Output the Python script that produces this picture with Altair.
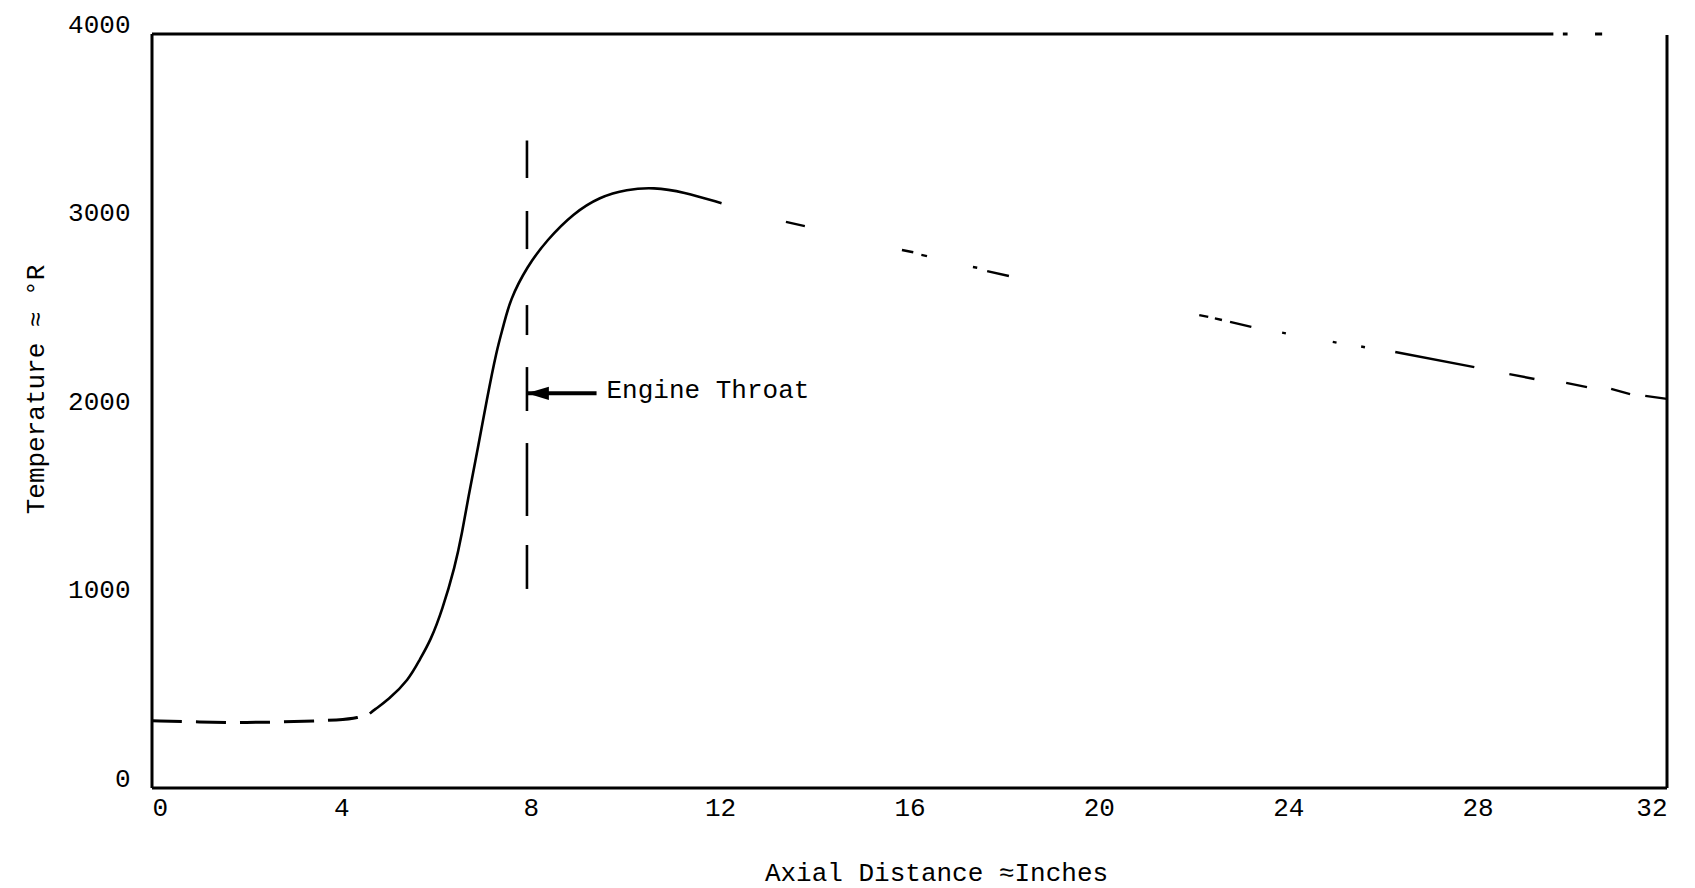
import altair as alt
import pandas as pd

FONT = "Liberation Mono"
WEIGHT = "normal"

# ---- data ----
# inlet section (dashed)
inlet_x = [0, 1.0, 2.0, 3.0, 4.0, 4.35, 4.6]
inlet_y = [357, 350, 346, 352, 361, 372, 395]

# solid temperature rise up to the peak and a bit beyond
rise_x = [4.6, 4.69, 4.99, 5.42, 5.65, 5.89, 6.13, 6.4, 6.55, 6.67, 6.89, 7.07,
          7.28, 7.42, 7.56, 7.92, 8.34, 8.9, 9.46, 10.03, 10.59, 11.22, 12.03]
rise_y = [395, 414, 467, 573, 679, 785, 944, 1174, 1353, 1528, 1811, 2058,
          2324, 2447, 2589, 2766, 2907, 3049, 3137, 3176, 3187, 3163, 3102]

# faded tail of the curve (visible fragments)
tail_id = [1, 1, 2, 2, 3, 3, 4, 4, 5, 5, 6, 6, 7, 7, 8, 8, 9, 9, 10, 10,
           11, 11, 12, 12, 13, 13, 14, 14, 15, 15, 16, 16]
tail_x = [13.39, 13.79, 15.84, 16.08, 16.25, 16.37, 17.34, 17.43, 17.64, 18.10,
          22.12, 22.31, 22.45, 22.60, 22.77, 23.22, 23.87, 23.95, 24.94, 25.02,
          25.54, 25.62, 26.26, 27.93, 28.67, 29.20, 29.87, 30.31, 30.82, 31.22,
          31.54, 32.0]
tail_y = [3003, 2981, 2854, 2842, 2828, 2822, 2764, 2760, 2742, 2716,
          2509, 2499, 2491, 2483, 2473, 2446, 2416, 2412, 2367, 2363,
          2342, 2338, 2313, 2233, 2196, 2170, 2149, 2127, 2117, 2090,
          2080, 2064]

# engine throat marker (dashed vertical line)
throat_x = 7.92
throat_y1 = [3435, 3061, 2562, 2233, 1830, 1289]
throat_y2 = [3236, 2859, 2403, 2000, 1443, 1056]

# arrow + label
arrow_y = 2094
arrow_x_start = 7.92
arrow_x_end = 9.39
arrow_head_x = 8.15
label_x = 9.6
label_y = 2111
label_text = "Engine Throat"

# frame (partly broken at the top right in the original)
frame_x1 = [0, 0, 32, 0, 29.8, 30.48]
frame_x2 = [0, 32, 32, 29.6, 29.9, 30.63]
frame_y1 = [0, 0, 0, 4000, 4000, 4000]
frame_y2 = [4000, 0, 3995, 4000, 4000, 4000]

x_ticks = [0, 4, 8, 12, 16, 20, 24, 28, 32]
y_ticks = [0, 1000, 2000, 3000, 4000]

# ---- build ----
xs = alt.Scale(domain=[0, 32], nice=False, zero=False)
ys = alt.Scale(domain=[0, 4000], nice=False)

inlet_df = pd.DataFrame({"x": inlet_x, "y": inlet_y})
rise_df = pd.DataFrame({"x": rise_x, "y": rise_y})
tail_df = pd.DataFrame({"id": tail_id, "x": tail_x, "y": tail_y})
throat_df = pd.DataFrame({"x": [throat_x] * len(throat_y1), "y": throat_y1, "y2": throat_y2})
arrow_df = pd.DataFrame({"x": [arrow_x_start], "x2": [arrow_x_end], "y": [arrow_y]})
head_df = pd.DataFrame({"x": [arrow_head_x], "y": [arrow_y]})
label_df = pd.DataFrame({"x": [label_x], "y": [label_y], "t": [label_text]})
frame_df = pd.DataFrame({"x": frame_x1, "x2": frame_x2, "y": frame_y1, "y2": frame_y2})

x_axis = alt.Axis(
    values=x_ticks, format="d", title="Axial Distance ≈Inches", ticks=False, domain=False, grid=False,
    labelFont=FONT, labelFontSize=26, labelFontWeight=WEIGHT, labelColor="#000", labelPadding=6,
    titleFont=FONT, titleFontSize=26, titleFontWeight=WEIGHT, titleColor="#000",
    titleX=784, titleY=84, titleAnchor="start", titleAlign="center", titleBaseline="middle",
)
y_axis = alt.Axis(
    values=y_ticks, format="d", title="Temperature ≈ °R", ticks=False, domain=False, grid=False,
    labelFont=FONT, labelFontSize=26, labelFontWeight=WEIGHT, labelColor="#000",
    labelPadding=22, labelOffset=-10,
    titleFont=FONT, titleFontSize=26, titleFontWeight=WEIGHT, titleColor="#000",
    titleX=-117, titleY=355, titleAngle=270, titleAlign="center", titleBaseline="middle",
    titleAnchor="start",
)


def X(field="x"):
    return alt.X(f"{field}:Q", scale=xs, axis=x_axis)


def Y(field="y"):
    return alt.Y(f"{field}:Q", scale=ys, axis=y_axis)


frame = alt.Chart(frame_df).mark_rule(color="#000", strokeWidth=3).encode(
    x=X(), x2="x2:Q", y=Y(), y2="y2:Q",
)

inlet = alt.Chart(inlet_df).mark_line(
    color="#000", strokeWidth=3, strokeDash=[30, 14], interpolate="basis"
).encode(x=X(), y=Y())

rise = alt.Chart(rise_df).mark_line(
    color="#000", strokeWidth=2.6, interpolate="basis"
).encode(x=X(), y=Y())

tail = alt.Chart(tail_df).mark_line(color="#000", strokeWidth=2.4).encode(
    x=X(), y=Y(), detail="id:N",
)

throat = alt.Chart(throat_df).mark_rule(color="#000", strokeWidth=2.6).encode(
    x=X(), y=Y(), y2="y2:Q",
)

arrow = alt.Chart(arrow_df).mark_rule(color="#000", strokeWidth=4).encode(
    x=X(), x2="x2:Q", y=Y(),
)

head = alt.Chart(head_df).mark_point(
    shape="M -1 0 L 1 -0.6 L 1 0.6 Z", filled=True, size=484, color="#000", opacity=1, strokeWidth=0
).encode(x=X(), y=Y())

label = alt.Chart(label_df).mark_text(
    align="left", baseline="middle", font=FONT, fontSize=26, fontWeight=WEIGHT, color="#000"
).encode(x=X(), y=Y(), text="t:N")

chart = alt.layer(frame, inlet, rise, tail, throat, arrow, head, label).properties(
    width=1515,
    height=754,
    autosize=alt.AutoSizeParams(type="none"),
    padding={"left": 152, "top": 34, "right": 28, "bottom": 100},
    background="white",
).configure_view(stroke=None)

chart.save("out.html", embed_options={"renderer": "svg", "actions": False})
